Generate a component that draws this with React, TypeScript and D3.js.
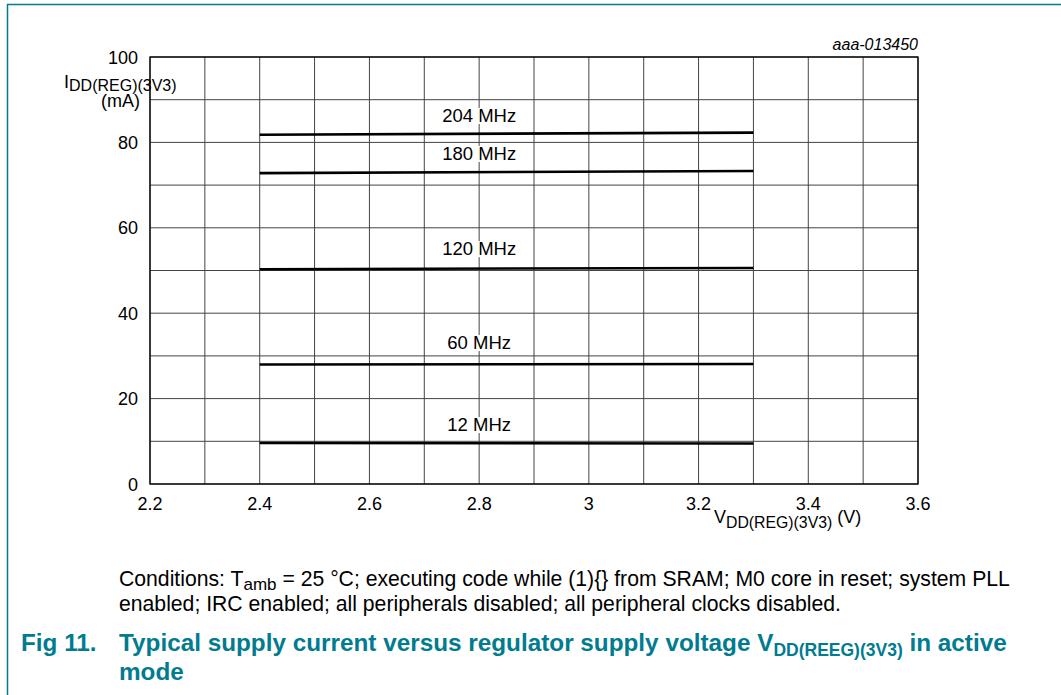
import React from "react";
import * as d3 from "d3";

const xTicks = [2.2, 2.4, 2.6, 2.8, 3.0, 3.2, 3.4, 3.6];
const xTickLabels = ["2.2", "2.4", "2.6", "2.8", "3", "3.2", "3.4", "3.6"];
const yTicks = [0, 20, 40, 60, 80, 100];
const xGrid = d3.range(22, 37).map((v) => v / 10);
const yGrid = d3.range(0, 11).map((v) => v * 10);

const seriesNames = ["204 MHz", "180 MHz", "120 MHz", "60 MHz", "12 MHz"];
const seriesV = [2.4, 3.3];
const series204 = [81.8, 82.3];
const series180 = [72.8, 73.3];
const series120 = [50.3, 50.6];
const series60 = [28.0, 28.1];
const series12 = [9.6, 9.5];
const seriesValues = [series204, series180, series120, series60, series12];
const labelValues = [84.8, 75.9, 53.6, 31.6, 12.4];
const labelV = 2.8;

const TEAL = "#007b8f";
const FONT = "Liberation Sans, Arial, sans-serif";

export default function App() {
  const left = 150, right = 918, top = 57, bottom = 484;
  const x = d3.scaleLinear().domain([2.2, 3.6]).range([left, right]);
  const y = d3.scaleLinear().domain([0, 100]).range([bottom, top]);
  const line = d3
    .line<[number, number]>()
    .x((d) => x(d[0]))
    .y((d) => y(d[1]));

  return (
    <svg
      width={1061}
      height={695}
      style={{ position: "absolute", left: 0, top: 0, background: "#fff" }}
      fontFamily={FONT}
    >
      <rect x={0} y={0} width={1061} height={695} fill="#fff" />
      {/* frame */}
      <line x1={7} y1={4.5} x2={1061} y2={4.5} stroke={TEAL} strokeWidth={1.5} />
      <line x1={7.5} y1={4} x2={7.5} y2={695} stroke={TEAL} strokeWidth={1.5} />

      {/* grid */}
      {xGrid.map((v, i) => (
        <line key={"gx" + i} x1={x(v)} x2={x(v)} y1={top} y2={bottom} stroke="#444" strokeWidth={1} />
      ))}
      {yGrid.map((v, i) => (
        <line key={"gy" + i} x1={left} x2={right} y1={y(v)} y2={y(v)} stroke="#444" strokeWidth={1} />
      ))}
      <rect x={left} y={top} width={right - left} height={bottom - top} fill="none" stroke="#000" strokeWidth={1.3} />

      {/* series */}
      {seriesValues.map((vals, i) => {
        const pts = seriesV.map((v, j) => [v, vals[j]] as [number, number]);
        return <path key={"s" + i} d={line(pts) || ""} fill="none" stroke="#000" strokeWidth={2.6} />;
      })}
      {labelValues.map((lv, i) => {
        const ly = y(lv);
        const w = seriesNames[i].length * 9.5;
        return (
          <g key={"l" + i}>
            <rect x={x(labelV) - w / 2} y={ly - 14} width={w} height={16} fill="#fff" />
            <text x={x(labelV)} y={ly} textAnchor="middle" fontSize={18.5}>
              {seriesNames[i]}
            </text>
          </g>
        );
      })}

      {/* y ticks */}
      {yTicks.map((v, i) => (
        <text key={"yt" + i} x={138} y={y(v) + 6.5} textAnchor="end" fontSize={18}>
          {v}
        </text>
      ))}
      {/* x ticks */}
      {xTicks.map((v, i) => (
        <text key={"xt" + i} x={x(v)} y={510} textAnchor="middle" fontSize={18}>
          {xTickLabels[i]}
        </text>
      ))}

      {/* axis titles */}
      <text x={64} y={88} fontSize={18}>
        I<tspan fontSize={16} dy={3}>DD(REG)(3V3)</tspan>
      </text>
      <text x={140} y={107} textAnchor="end" fontSize={18}>
        (mA)
      </text>
      <text x={714} y={523} fontSize={18}>
        V<tspan fontSize={15.8} dy={5}>DD(REG)(3V3)</tspan>
        <tspan dy={-5}> (V)</tspan>
      </text>
      <text x={918} y={50} textAnchor="end" fontSize={16} fontStyle="italic">
        aaa-013450
      </text>

      {/* conditions */}
      <text x={119} y={586} fontSize={21.2}>
        Conditions: T<tspan fontSize={17} dy={4}>amb</tspan>
        <tspan dy={-4}> = 25 °C; executing code while (1){"{}"} from SRAM; M0 core in reset; system PLL</tspan>
      </text>
      <text x={119} y={611} fontSize={21.2}>
        enabled; IRC enabled; all peripherals disabled; all peripheral clocks disabled.
      </text>

      {/* caption */}
      <text x={21} y={651} fontSize={24.3} fontWeight="bold" fill={TEAL}>
        Fig 11.
      </text>
      <text x={119} y={651} fontSize={24.3} fontWeight="bold" fill={TEAL}>
        Typical supply current versus regulator supply voltage V
        <tspan fontSize={17.5} dy={5}>DD(REEG)(3V3)</tspan>
        <tspan dy={-5}> in active</tspan>
      </text>
      <text x={119} y={680} fontSize={24.3} fontWeight="bold" fill={TEAL}>
        mode
      </text>
    </svg>
  );
}
